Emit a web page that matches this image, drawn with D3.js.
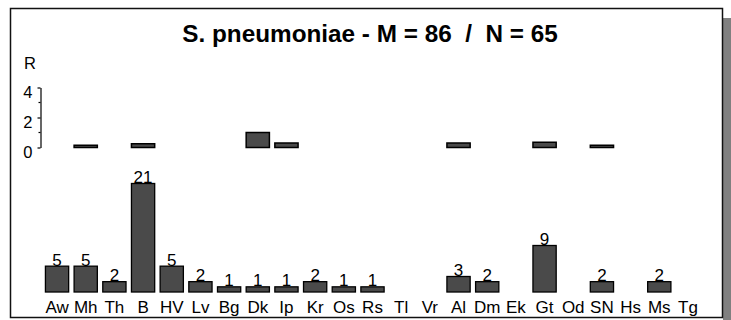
<!DOCTYPE html>
<html>
<head>
<meta charset="utf-8">
<script src="https://cdn.jsdelivr.net/npm/d3@7/dist/d3.min.js"></script>
<style>
  html, body { margin: 0; padding: 0; background: #fff; }
  svg { display: block; font-family: "Liberation Sans", Arial, sans-serif; }
</style>
</head>
<body>
<svg id="chart" width="731" height="320"></svg>
<script>
// Isolate groups
const categories = ["Aw","Mh","Th","B","HV","Lv","Bg","Dk","Ip","Kr","Os","Rs","Tl","Vr","Al","Dm","Ek","Gt","Od","SN","Hs","Ms","Tg"];
// Counts per group (N = 65)
const counts = [5,5,2,21,5,2,1,1,1,2,1,1,0,0,3,2,0,9,0,2,0,2,0];
// R index per group (null = not reported)
const rValues = [null,0.15,null,0.25,null,null,null,1.0,0.3,null,null,null,null,null,0.3,null,null,0.35,null,0.15,null,null,null];
const rTicks = [0,2,4];
const rMinorTicks = [1,3];
const titleText = "S. pneumoniae - M = 86  /  N = 65";

const svg = d3.select("#chart");
const barFill = "#4a4a4a";
const labelSize = 17;

// drop shadow and frame
svg.append("rect").attr("x", 723).attr("y", 18).attr("width", 8).attr("height", 302).attr("fill", "#808080");
svg.append("rect").attr("x", 10.5).attr("y", 8.5).attr("width", 712).attr("height", 309)
  .attr("fill", "#fff").attr("stroke", "#111").attr("stroke-width", 1.5);

// title
svg.append("text").attr("x", 370).attr("y", 42).attr("text-anchor", "middle")
  .attr("font-size", 24.3).attr("font-weight", "bold").style("white-space", "pre")
  .text(titleText);

const x = d3.scaleBand().domain(categories).range([42.7, 702.3])
  .paddingInner(0.19).paddingOuter(0.095);

// ---- R panel ----
const yR = d3.scaleLinear().domain([0, 4]).range([147.5, 87.5]);

const rAxis = svg.append("g").attr("transform", "translate(40.5,0)")
  .call(d3.axisLeft(yR).tickValues(rTicks).tickFormat(d3.format("d"))
    .tickSize(3).tickSizeOuter(0).tickPadding(5));
rAxis.select(".domain").attr("stroke", "#000").attr("stroke-width", 1.2);
rAxis.selectAll(".tick line").attr("stroke", "#000").attr("stroke-width", 1.2);
rAxis.selectAll(".tick text").attr("font-size", 16.5).attr("fill", "#000")
  .attr("font-family", "Liberation Sans, Arial, sans-serif").attr("dy", "0.6em");
rAxis.selectAll(".minor").data(rMinorTicks).enter().append("line")
  .attr("class", "minor")
  .attr("x1", -2).attr("x2", 0)
  .attr("y1", d => yR(d)).attr("y2", d => yR(d))
  .attr("stroke", "#000").attr("stroke-width", 1.2);

svg.append("text").attr("x", 24).attr("y", 68.5).attr("font-size", 16.5).text("R");

const rData = categories.map((c, i) => ({ c, v: rValues[i] })).filter(d => d.v != null);
svg.append("g").selectAll("rect").data(rData).enter().append("rect")
  .attr("x", d => x(d.c))
  .attr("width", x.bandwidth())
  .attr("y", d => yR(d.v))
  .attr("height", d => yR(0) - yR(d.v))
  .attr("fill", barFill).attr("stroke", "#000").attr("stroke-width", 1.5);

// ---- count panel ----
const yN = d3.scaleLinear().domain([0, 21]).range([292, 183.5]);
const nData = categories.map((c, i) => ({ c, v: counts[i] }));
const drawn = nData.filter(d => d.v > 0);

svg.append("g").selectAll("rect").data(drawn).enter().append("rect")
  .attr("x", d => x(d.c))
  .attr("width", x.bandwidth())
  .attr("y", d => yN(d.v))
  .attr("height", d => yN(0) - yN(d.v))
  .attr("fill", barFill).attr("stroke", "#000").attr("stroke-width", 1.3);

svg.append("g").selectAll("text").data(drawn).enter().append("text")
  .attr("x", d => x(d.c) + x.bandwidth() / 2)
  .attr("y", d => yN(d.v) - 0.5)
  .attr("text-anchor", "middle").attr("font-size", labelSize)
  .text(d => d.v);

// category labels
svg.append("g").selectAll("text").data(categories).enter().append("text")
  .attr("x", d => x(d) + x.bandwidth() / 2)
  .attr("y", 312.5)
  .attr("text-anchor", "middle").attr("font-size", labelSize)
  .text(d => d);
</script>
</body>
</html>
